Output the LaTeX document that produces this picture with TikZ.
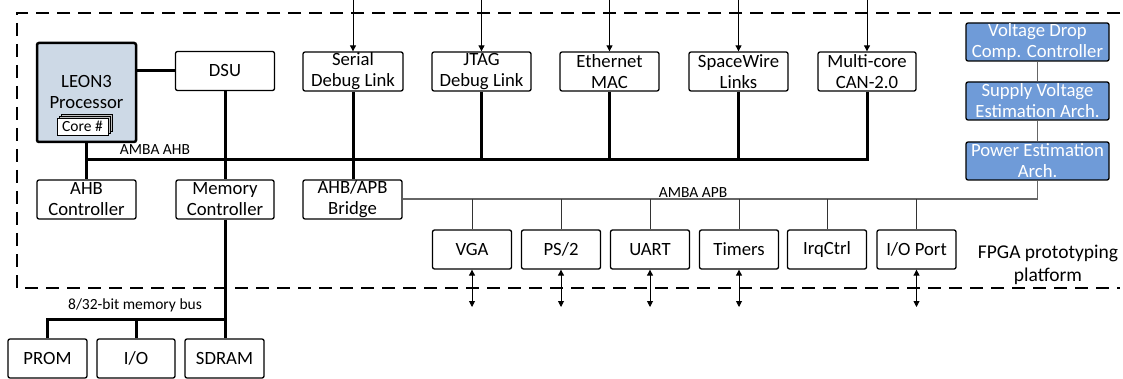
\documentclass[tikz,border=0pt]{standalone}
\usepackage{fontspec}
\setmainfont{Carlito}
\usetikzlibrary{arrows.meta,shadows}
\definecolor{leonfill}{HTML}{CDD9E6}
\definecolor{bluefill}{HTML}{6F9BD8}
\definecolor{busgray}{HTML}{666666}
\newcommand{\bigfs}{\fontsize{18.7}{21}\selectfont}
\newcommand{\smallfs}{\fontsize{15.5}{17}\selectfont}
\newcommand{\platfs}{\fontsize{19.5}{23.5}\selectfont}
\tikzset{
  blk/.style={draw, rounded corners=2pt, line width=1.3pt, inner sep=0pt,
    align=center, font=\bigfs, minimum width=99pt, minimum height=39pt},
  per/.style={blk, minimum width=79pt},
  bluebox/.style={blk, fill=bluefill, text=white, minimum width=143pt, minimum height=38pt},
  thickbus/.style={line width=3pt},
  thinbus/.style={line width=1.2pt, draw=busgray},
  thinline/.style={line width=0.9pt},
  inarrow/.style={line width=0.9pt, -{Triangle[length=6pt,width=6pt]}},
  ioarrow/.style={line width=0.9pt, {Triangle[length=6pt,width=6pt]}-{Triangle[length=6pt,width=6pt]}},
  frame/.style={dash pattern=on 13pt off 8pt, line width=1.3pt},
  lbl/.style={font=\smallfs, inner sep=0pt},
}
\begin{document}
\begin{tikzpicture}[x=1pt,y=-1pt]
\useasboundingbox (0,0) rectangle (1123,379);
% frame
\draw[frame] (1120,13) -- (17,13) -- (17,288) -- (1120,288);

% processor
\node[blk, fill=leonfill, line width=2.5pt, minimum width=99pt, minimum height=99pt] (leon) at (86.5,92.5) {LEON3\\Processor};
\node[draw, fill=white, line width=0.8pt, inner sep=0pt, minimum width=51pt, minimum height=17pt, font=\smallfs,
  double copy shadow={shadow xshift=2pt, shadow yshift=2pt, fill=gray!50, draw, line width=0.6pt}] (core) at (82.5,126.5) {Core \#};

\node[blk] (dsu) at (225,71) {DSU};
\node[blk, minimum width=100pt] (serial) at (353,71.5) {Serial\\Debug Link};
\node[blk] (jtag) at (481.5,71.5) {JTAG\\Debug Link};
\node[blk] (eth) at (609.5,71.5) {Ethernet\\MAC};
\node[blk] (spw) at (738.5,71.5) {SpaceWire\\Links};
\node[blk, minimum width=98pt] (can) at (867,71.5) {Multi-core\\CAN-2.0};

\node[blk] (ahbc) at (86.5,199.5) {AHB\\Controller};
\node[blk, minimum width=98pt] (memc) at (225,199.5) {Memory\\Controller};
\node[blk] (bridge) at (352.5,199.5) {AHB/APB\\Bridge};

\node[per] (vga) at (472,249.5) {VGA};
\node[per] (ps2) at (561,249.5) {PS/2};
\node[per] (uart) at (650,249.5) {UART};
\node[per] (timers) at (739,249.5) {Timers};
\node[per] (irq) at (827,249.5) {IrqCtrl};
\node[per] (ioport) at (916.5,249.5) {I/O Port};

\node[per] (prom) at (47.5,358.5) {PROM};
\node[per, minimum width=78pt] (io) at (136,358.5) {I/O};
\node[per] (sdram) at (224.5,358.5) {SDRAM};

\node[bluebox] (vdc) at (1037.5,42) {Voltage Drop\\Comp. Controller};
\node[bluebox] (sve) at (1037.5,101) {Supply Voltage\\Estimation Arch.};
\node[bluebox] (pe) at (1037.5,161) {Power Estimation\\Arch.};

% AHB bus
\coordinate (ahbL) at (leon.south |- 0,160);
\coordinate (ahbR) at (can.south |- 0,160);
\draw[thickbus] (can.south) -- (ahbR) -- (ahbL);
\draw[thickbus] (leon.south) -- (ahbc.north);
\draw[thickbus] (leon.east |- dsu.west) -- (dsu.west);
\draw[thickbus] (dsu.south) -- (memc.north);
\draw[thickbus] (serial.south) -- (bridge.north -| serial.south);
\draw[thickbus] (jtag.south) -- (jtag.south |- ahbR);
\draw[thickbus] (eth.south) -- (eth.south |- ahbR);
\draw[thickbus] (spw.south) -- (spw.south |- ahbR);
\node[lbl] (ahblbl) at (155,150) {AMBA AHB};

% memory bus
\coordinate (mbL) at (prom.north |- 0,319);
\coordinate (mbR) at (memc.south |- 0,319);
\draw[thickbus] (memc.south) -- (sdram.north -| memc.south);
\draw[thickbus] (mbR) -- (mbL) -- (prom.north);
\draw[thickbus] (io.north) -- (io.north |- mbL);
\node[lbl] (mblbl) at (135,305) {8/32-bit memory bus};

% APB bus
\coordinate (apbR) at (pe.south |- 0,199);
\draw[thinbus] (bridge.east |- apbR) -- (apbR) -- (pe.south);
\draw[thinbus] (vdc.south) -- (sve.north);
\draw[thinbus] (sve.south) -- (pe.north);
\foreach \p in {vga,ps2,uart,timers,irq,ioport}{
  \draw[thinline, draw=black!80] (\p.north |- apbR) -- (\p.north);
}
\node[lbl, anchor=south] (apblbl) at (693,198) {AMBA APB};

% external arrows
\foreach \b in {serial,jtag,eth,spw,can}{
  \coordinate (\b-top) at (\b.north |- 0,0);
  \draw[inarrow] (\b-top) -- (\b.north);
}
\foreach \p in {vga,ps2,uart,timers,ioport}{
  \coordinate (\p-ext) at (\p.south |- 0,307);
  \draw[ioarrow] (\p.south) -- (\p-ext);
}

\node[font=\platfs, align=center, inner sep=0pt] (fpga) at (1048,265) {FPGA prototyping\\platform};
\end{tikzpicture}
\end{document}
